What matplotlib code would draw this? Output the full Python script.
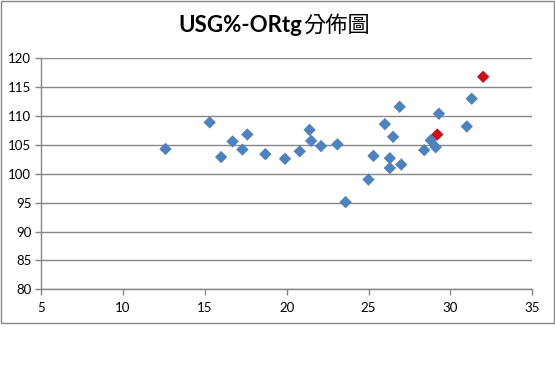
"""
USG% vs ORtg scatter (Excel-style chart), two highlighted players in red.
"""
import matplotlib
matplotlib.use("Agg")
import matplotlib.pyplot as plt
import matplotlib.patches as mpatches

# data
usg = [12.6, 15.3, 16.0, 16.7, 17.3, 17.6, 18.7, 19.9, 20.8, 21.4, 21.5,
       22.1, 23.1, 23.6, 25.0, 25.3, 26.0, 26.3, 26.3, 26.5, 26.9, 27.0,
       28.4, 28.8, 29.1, 29.3, 31.0, 31.3]
ortg = [104.3, 108.9, 102.9, 105.6, 104.2, 106.8, 103.4, 102.6, 103.9, 107.6,
        105.7, 104.8, 105.1, 95.1, 99.0, 103.1, 108.6, 102.7, 101.0, 106.4,
        111.6, 101.6, 104.1, 105.8, 104.6, 110.4, 108.2, 113.0]
usg_hl = [29.2, 32.0]
ortg_hl = [106.8, 116.8]

title_latin = "USG%-ORtg"
title_cjk = "分佈圖"
xticks = [5, 10, 15, 20, 25, 30, 35]
yticks = [80, 85, 90, 95, 100, 105, 110, 115, 120]

GRAY = "#868686"
BLUE = "#4F81BD"
RED = "#C8101C"

fig = plt.figure(figsize=(5.55, 3.80), dpi=100)
ax = fig.add_axes([41 / 555, 1 - 289.3 / 380, 491.3 / 555, 231 / 380])

ax.scatter(usg, ortg, marker="D", s=40, color=BLUE, edgecolors="none",
           zorder=3, clip_on=False)
ax.scatter(usg_hl, ortg_hl, marker="D", s=40, color=RED, edgecolors="none",
           zorder=3, clip_on=False)

ax.set_xlim(5, 35)
ax.set_ylim(80, 120)
ax.set_xticks(xticks)
ax.set_yticks(yticks)
ax.yaxis.grid(True, color=GRAY, linewidth=1)
ax.set_axisbelow(True)
for side in ["top", "right"]:
    ax.spines[side].set_visible(False)
for side in ["left", "bottom"]:
    ax.spines[side].set_color(GRAY)
    ax.spines[side].set_linewidth(1)
ax.tick_params(length=4, width=1, color=GRAY, labelsize=9.5,
               labelcolor="black")
ax.tick_params(axis="y", pad=3)
ax.tick_params(axis="x", pad=5)
for lab in ax.get_xticklabels() + ax.get_yticklabels():
    lab.set_fontfamily("Lato")

# title: bold latin part + regular CJK part
fig.text(302 / 555, 1 - 26 / 380, title_latin, ha="right", va="center",
         fontsize=16, fontweight="bold", family="Lato")
fig.text(303 / 555, 1 - 25.5 / 380, title_cjk, ha="left", va="center",
         fontsize=16, family=["Noto Sans CJK TC", "DejaVu Sans"])

# chart border
fig.patches.append(mpatches.Rectangle(
    (1 / 555, 1 - 323 / 380), 553 / 555, 322 / 380,
    transform=fig.transFigure, fill=False, edgecolor=GRAY, linewidth=1))

fig.savefig("out.png", dpi=100, facecolor="white")
